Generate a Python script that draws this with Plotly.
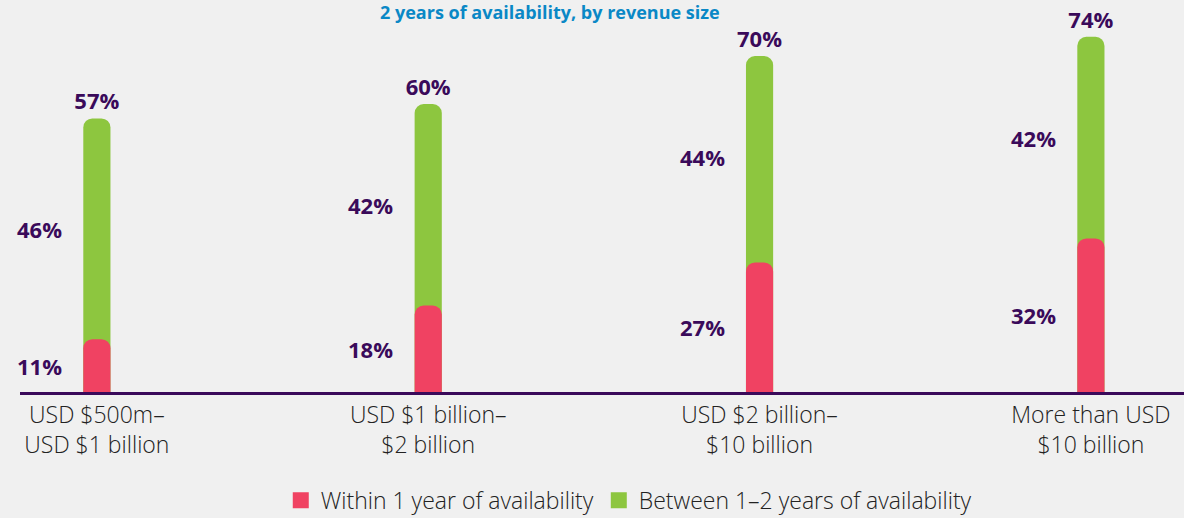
import plotly.graph_objects as go

# ── data ─────────────────────────────────────────────────────────────
categories = ["USD $500m–<br>USD $1 billion", "USD $1 billion–<br>$2 billion",
              "USD $2 billion–<br>$10 billion", "More than USD<br>$10 billion"]
within_1yr = [11, 18, 27, 32]
between_1_2yr = [46, 42, 44, 42]
totals = [57, 60, 70, 74]
series_names = ["Within 1 year of availability", "Between 1–2 years of availability"]

RED = "#f04262"
GREEN = "#8dc63f"
PURPLE = "#3a0a5a"
BLUE = "#0a88c6"
BG = "#f0f0f0"
FONT = "'Open Sans', 'Noto Sans', sans-serif"
X_RANGE = [-0.232, 3.281]
Y_RANGE = [0, 80]

fig = go.Figure()

# green bar drawn to full height; red sits on an overlaid axis pair so
# both get their own rounded top
fig.add_trace(go.Bar(
    x=categories, y=totals,
    name=series_names[1],
    marker=dict(color=GREEN, line=dict(width=0), cornerradius=9),
    width=0.082,
    text=[f"{v}%" for v in totals],
    textposition="outside",
    constraintext="none",
    textfont=dict(family=FONT, size=22, color=PURPLE, weight="bold"),
    cliponaxis=False,
    showlegend=False,
    hoverinfo="skip",
))
fig.add_trace(go.Bar(
    x=categories, y=within_1yr,
    xaxis="x2", yaxis="y2",
    name=series_names[0],
    marker=dict(color=RED, line=dict(width=0), cornerradius=9),
    width=0.082,
    textposition="none",
    showlegend=False,
    hoverinfo="skip",
))

# legend-only entries with bigger square swatches
for name, color in zip(series_names, [RED, GREEN]):
    fig.add_trace(go.Scatter(
        x=[None], y=[None], mode="markers", name=name,
        marker=dict(symbol="square", size=16, color=color),
    ))

# segment labels sit to the left of each bar
for cat, w, b in zip(categories, within_1yr, between_1_2yr):
    for val, ymid in ((w, w / 2), (b, w + b / 2)):
        fig.add_annotation(
            x=cat, y=ymid, text=f"{val}%",
            showarrow=False, xanchor="right", xshift=-33,
            font=dict(family=FONT, size=22, color=PURPLE, weight="bold"),
        )

# title, tucked right against the top edge
fig.add_annotation(
    xref="paper", yref="paper", x=0.455, y=1.0, yanchor="middle", yshift=-4,
    text="2 years of availability, by revenue size",
    showarrow=False,
    font=dict(family=FONT, size=18, color=BLUE, weight="bold"),
)

fig.update_layout(
    barmode="overlay",
    width=1184, height=518,
    paper_bgcolor=BG, plot_bgcolor=BG,
    margin=dict(l=20, r=0, t=8, b=126, autoexpand=False),
    font=dict(family=FONT, size=23, color="#222222"),
    showlegend=True,
    legend=dict(
        orientation="h",
        x=0.523, xanchor="center",
        y=-0.226, yanchor="top",
        font=dict(family=FONT, size=23, color="#222222", weight=300),
        bgcolor="rgba(0,0,0,0)",
        traceorder="normal",
        itemsizing="trace",
        itemwidth=30,
    ),
    xaxis=dict(
        range=X_RANGE,
        showline=True, linecolor=PURPLE, linewidth=3,
        showgrid=False, zeroline=False, ticks="",
        tickfont=dict(family=FONT, size=23, color="#222222", weight=300),
    ),
    yaxis=dict(range=Y_RANGE, visible=False, showgrid=False, zeroline=False),
    xaxis2=dict(range=X_RANGE, overlaying="x", visible=False, matches="x"),
    yaxis2=dict(range=Y_RANGE, overlaying="y", visible=False),
)

fig.write_html(
    "out.html",
    config={"displayModeBar": False},
    post_script="document.body.style.margin='0';document.body.style.overflow='hidden';",
)
